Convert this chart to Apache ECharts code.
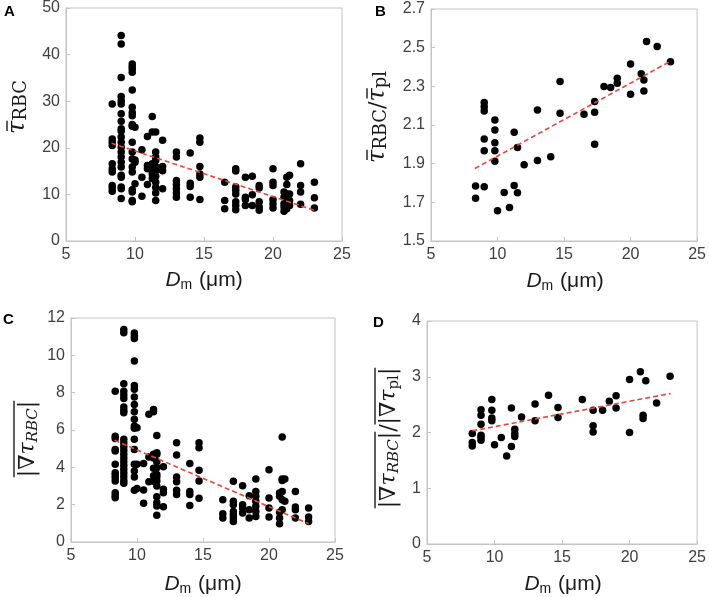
<!DOCTYPE html>
<html>
<head>
<meta charset="utf-8">
<script src="https://cdn.jsdelivr.net/npm/echarts@6/dist/echarts.min.js"></script>
<style>
html,body{margin:0;padding:0;background:#fff;}
#chart{width:709px;height:597px;}
</style>
</head>
<body>
<div id="chart"></div>
<script>
// ---------- DATA ----------
// Vessel diameter columns D_m (µm), shared by all panels
const dmColumns = [8.35, 9.0, 9.8, 10.0, 10.5, 10.9, 11.25, 11.5, 12.0, 13.0, 14.0, 14.7, 16.5, 17.3, 18.0, 18.5, 19.0, 20.0, 20.8, 21.0, 21.2, 22.0, 23.0];

// Panel A: mean tau_RBC, values per column
const tauRBC = [
  [29.4, 21.9, 21.2, 20.5, 16.6, 15.5, 14.8, 11.9, 11.4, 10.7],
  [44.1, 42.3, 35.1, 31.0, 30.1, 29.4, 27.3, 25.7, 24.1, 23.6, 22.3, 21.2, 20.1, 19.1, 18.0, 16.9, 15.9, 14.1, 13.7, 11.6, 11.2, 9.1],
  [38.0, 37.4, 36.9, 36.2, 32.4, 28.7, 27.6, 26.9, 25.0, 24.6, 21.2, 19.1, 17.6, 15.9, 14.8, 11.0, 10.5, 8.7, 8.4],
  [24.4, 17.4, 16.9, 12.3],
  [19.6, 13.7, 9.6],
  [22.4, 16.2, 15.5, 12.1],
  [26.7, 23.4, 16.6, 15.7, 14.4, 13.4],
  [23.4, 19.1, 18.0, 17.3, 16.0, 15.0, 13.9, 12.6, 11.5, 10.3, 8.7],
  [21.6, 16.0, 15.1, 11.2],
  [19.1, 18.0, 13.0, 12.1, 11.2, 10.3, 9.4],
  [18.9, 12.4, 11.7, 9.4],
  [22.1, 21.2, 16.0, 14.4, 13.7, 8.9],
  [12.6, 8.7, 6.9],
  [15.5, 15.0, 11.6, 10.9, 10.1, 8.4, 7.6, 6.7],
  [13.7, 9.4, 8.9, 7.6],
  [13.9, 9.9, 7.6],
  [11.9, 11.4, 8.4, 7.3, 6.6],
  [15.5, 12.6, 11.9, 8.9, 8.0, 7.1],
  [10.5, 9.4, 8.0, 7.3, 6.4],
  [13.7, 12.1, 10.1, 8.9, 6.9],
  [14.1, 10.1, 8.7, 7.6],
  [16.6, 11.9, 10.5, 7.9],
  [12.6, 9.3, 7.1]
];

// Panel B: tau_RBC / tau_pl
const tauRatio = [
  [1.785, 1.721],
  [2.216, 2.195, 2.173, 2.027, 1.967, 1.78],
  [2.126, 2.074, 2.008, 1.967, 1.913],
  [1.656],
  [1.751],
  [1.673],
  [2.062, 1.787],
  [1.984, 1.749],
  [1.894],
  [2.178, 1.917],
  [1.936],
  [2.325, 2.161],
  [2.155],
  [2.221, 2.166, 2.001],
  [2.299],
  [2.294],
  [2.342, 2.316],
  [2.415, 2.259],
  [2.365],
  [2.333, 2.276],
  [2.532],
  [2.506],
  [2.427]
];

// Panel C: mean |grad tau_RBC|
const gradRBC = [
  [8.08, 5.67, 5.55, 4.96, 4.88, 4.16, 3.71, 3.59, 3.44, 3.27, 2.64, 2.48, 2.37],
  [11.39, 11.21, 8.48, 8.08, 7.87, 7.69, 7.23, 7.05, 6.93, 5.5, 5.3, 5.1, 4.9, 4.7, 4.5, 4.3, 4.1, 3.9, 3.7, 3.5, 3.3, 3.15],
  [11.2, 11.03, 10.9, 9.7, 8.39, 8.18, 7.77, 7.37, 6.98, 6.57, 6.21, 6.09, 5.5, 4.96, 4.16, 3.8, 3.48, 2.77],
  [6.12, 4.16, 2.87],
  [4.21, 2.78, 2.07],
  [6.84, 4.55, 3.23],
  [7.1, 6.98, 4.7, 4.5, 3.95, 3.55, 3.25],
  [5.71, 4.78, 4.7, 4.3, 3.98, 3.62, 3.48, 3.27, 3.0, 2.43, 2.1, 1.93, 1.43],
  [4.03, 2.82, 2.64, 1.89],
  [5.32, 4.66, 3.48, 3.23, 2.77, 2.55],
  [4.2, 2.7, 2.55, 1.96],
  [5.32, 5.05, 3.84, 3.27, 2.34],
  [2.27, 1.52, 1.28],
  [3.25, 2.18, 2.0, 1.64, 1.46, 1.28, 1.1],
  [3.02, 2.0, 1.82, 1.55],
  [2.48, 1.73, 1.28],
  [3.37, 2.71, 2.45, 2.18, 1.91, 1.64, 1.37],
  [3.87, 2.36, 1.82, 1.34],
  [2.62, 2.45, 1.59, 1.28, 0.98],
  [5.62, 3.37, 3.3, 2.71, 2.27, 1.73],
  [3.37, 2.18],
  [2.71, 1.87, 1.73, 1.28],
  [1.82, 1.34, 1.1]
];

// Panel D: |grad tau_RBC| / |grad tau_pl|
const gradRatio = [
  [1.98, 1.82, 1.76],
  [2.41, 2.31, 2.15, 1.95, 1.91, 1.86],
  [2.59, 2.40, 2.26, 2.21],
  [1.78],
  [1.91],
  [1.58],
  [2.44, 1.75],
  [2.06, 1.98, 1.93],
  [2.28],
  [2.51, 2.21],
  [2.67],
  [2.45, 2.27],
  [2.59],
  [2.40, 2.12, 2.01],
  [2.40],
  [2.56],
  [2.66, 2.44],
  [2.95, 2.0],
  [3.09],
  [2.31, 2.25],
  [2.93],
  [2.53],
  [3.01]
];

// Linear trend lines (endpoints)
const trendA = [[8.3, 21.0], [23.0, 6.6]];
const trendB = [[8.3, 1.875], [23.0, 2.43]];
const trendC = [[8.3, 5.45], [23.0, 0.98]];
const trendD = [[8.35, 2.03], [23.05, 2.70]];

// Tick labels
const xTicks = [5, 10, 15, 20, 25];
const yTicksA = [0, 10, 20, 30, 40, 50];
const yTicksB = [1.5, 1.7, 1.9, 2.1, 2.3, 2.5, 2.7];
const yTicksC = [0, 2, 4, 6, 8, 10, 12];
const yTicksD = [0, 1, 2, 3, 4];

const panelLetters = ['A', 'B', 'C', 'D'];

// ---------- BUILD ----------
function points(cols) {
  const out = [];
  cols.forEach((vals, i) => vals.forEach(v => out.push([dmColumns[i], v])));
  return out;
}

const grids = [
  {left: 66, top: 7, width: 276, height: 234},
  {left: 431, top: 9, width: 269, height: 232},
  {left: 71, top: 318, width: 264, height: 224},
  {left: 427, top: 321, width: 273, height: 223}
];
grids.forEach(g => { g.show = true; g.borderColor = '#c4c4c4'; g.borderWidth = 1; g.backgroundColor = 'transparent'; });

const axisColor = '#c4c4c4';
const labelStyle = {color: '#404040', fontSize: 16, fontFamily: 'Liberation Sans, Arial, sans-serif'};

function xAxis(i) {
  return {
    gridIndex: i, type: 'value', min: 5, max: 25, interval: 5,
    axisLine: {show: true, onZero: false, lineStyle: {color: axisColor}},
    axisTick: {show: true, inside: true, length: 4, lineStyle: {color: axisColor}, customValues: xTicks},
    axisLabel: Object.assign({margin: 6, customValues: xTicks}, labelStyle),
    splitLine: {show: false}
  };
}
function yAxis(i, ticks, dec) {
  const iv = ticks[1] - ticks[0];
  return {
    gridIndex: i, type: 'value', min: ticks[0], max: ticks[ticks.length - 1], interval: iv,
    axisLine: {show: true, onZero: false, lineStyle: {color: axisColor}},
    axisTick: {show: true, inside: true, length: 4, lineStyle: {color: axisColor}, customValues: ticks},
    axisLabel: Object.assign({margin: 6, customValues: ticks, formatter: v => Number(v).toFixed(dec)}, labelStyle),
    splitLine: {show: false}
  };
}

function scatter(i, cols) {
  return {type: 'scatter', xAxisIndex: i, yAxisIndex: i, data: points(cols), symbolSize: 7.5,
    itemStyle: {color: '#000', opacity: 1}, silent: true, animation: false};
}
function trend(i, d) {
  return {type: 'line', xAxisIndex: i, yAxisIndex: i, data: d, symbol: 'none', silent: true, animation: false,
    lineStyle: {color: '#e8453c', width: 1.6, type: [5, 3]}, z: 3};
}

// text layout helper for math-like titles
const mctx = document.createElement('canvas').getContext('2d');
function fontOf(s) {
  return (s.italic ? 'italic ' : '') + (s.bold ? 'bold ' : '') + s.size + 'px ' + s.family;
}
function mathTitle(segs, cx, cy, rotate) {
  let x = 0;
  const items = [];
  const ol = {};
  segs.forEach(s => {
    mctx.font = fontOf(s);
    const w = mctx.measureText(s.t).width;
    items.push({s: s, x: x, w: w});
    if (s.ol) {
      if (!ol[s.ol]) ol[s.ol] = {x0: x + (s.olPad || 0), x1: x + w, y: s.olY};
      else { ol[s.ol].x1 = x + w; }
    }
    x += w + (s.gap || 0);
  });
  const total = x;
  const children = items.map(it => ({
    type: 'text', x: it.x - total / 2, y: it.s.dy || 0, silent: true,
    style: {
      text: it.s.t, font: fontOf(it.s), fill: '#1a1a1a',
      align: 'left', textAlign: 'left', verticalAlign: 'middle', textVerticalAlign: 'middle'
    }
  }));
  Object.keys(ol).forEach(k => {
    const o = ol[k];
    children.push({type: 'line', silent: true,
      shape: {x1: o.x0 - total / 2, y1: o.y, x2: o.x1 - total / 2, y2: o.y},
      style: {stroke: '#1a1a1a', lineWidth: 1.4}});
  });
  return {type: 'group', x: cx, y: cy, rotation: rotate ? Math.PI / 2 : 0, children: children};
}

const SERIF = '"DejaVu Serif", "Liberation Serif", serif';
const SANS = '"Liberation Sans", Arial, sans-serif';

function xTitle(cx, cy) {
  return mathTitle([
    {t: 'D', size: 21, italic: true, family: SANS},
    {t: 'm', size: 14, family: SANS, dy: 5, gap: 1},
    {t: ' (\u03bcm)', size: 21, family: SANS}
  ], cx, cy, false);
}

const titleA = mathTitle([
  {t: '\u03c4', size: 24, italic: true, family: SERIF, ol: 'a', olY: -11, olPad: 3},
  {t: 'RBC', size: 18, family: SERIF, dy: 3}
], 18, 107, true);

const titleB = mathTitle([
  {t: '\u03c4', size: 24, italic: true, family: SERIF, ol: 'a', olY: -11, olPad: 3},
  {t: 'RBC', size: 18, family: SERIF, dy: 3},
  {t: '/', size: 22, family: SERIF},
  {t: '\u03c4', size: 24, italic: true, family: SERIF, ol: 'b', olY: -11, olPad: 3},
  {t: 'pl', size: 18, family: SERIF, dy: 3}
], 378, 117, true);

const titleC = mathTitle([
  {t: '|', size: 22, family: SERIF, ol: 'a', olY: -14},
  {t: '\u2207', size: 22, family: SERIF, ol: 'a', olY: -14},
  {t: '\u03c4', size: 22, italic: true, family: SERIF, ol: 'a', olY: -14},
  {t: 'RBC', size: 15, italic: true, family: SERIF, dy: 5, ol: 'a', olY: -14},
  {t: '|', size: 22, family: SERIF, ol: 'a', olY: -14}
], 28, 439, true);

const titleD = mathTitle([
  {t: '|', size: 22, family: SERIF, ol: 'a', olY: -14},
  {t: '\u2207', size: 22, family: SERIF, ol: 'a', olY: -14},
  {t: '\u03c4', size: 22, italic: true, family: SERIF, ol: 'a', olY: -14},
  {t: 'RBC', size: 15, italic: true, family: SERIF, dy: 5, ol: 'a', olY: -14},
  {t: '|', size: 22, family: SERIF, ol: 'a', olY: -14},
  {t: '/', size: 22, family: SERIF},
  {t: '|', size: 22, family: SERIF, ol: 'b', olY: -14},
  {t: '\u2207', size: 22, family: SERIF, ol: 'b', olY: -14},
  {t: '\u03c4', size: 22, italic: true, family: SERIF, ol: 'b', olY: -14},
  {t: 'pl', size: 15, family: SERIF, dy: 5, ol: 'b', olY: -14},
  {t: '|', size: 22, family: SERIF, ol: 'b', olY: -14}
], 389, 438, true);

const letterPos = [[4, 4], [375, 4], [3, 312], [373, 315]];
const letters = panelLetters.map((l, i) => ({
  type: 'text', x: letterPos[i][0], y: letterPos[i][1], silent: true,
  style: {text: l, font: 'bold 15px ' + SANS, fill: '#000', align: 'left', verticalAlign: 'top', textAlign: 'left', textVerticalAlign: 'top'}
}));

const option = {
  backgroundColor: '#fff',
  animation: false,
  grid: grids,
  xAxis: [xAxis(0), xAxis(1), xAxis(2), xAxis(3)],
  yAxis: [yAxis(0, yTicksA, 0), yAxis(1, yTicksB, 1), yAxis(2, yTicksC, 0), yAxis(3, yTicksD, 0)],
  series: [
    scatter(0, tauRBC), trend(0, trendA),
    scatter(1, tauRatio), trend(1, trendB),
    scatter(2, gradRBC), trend(2, trendC),
    scatter(3, gradRatio), trend(3, trendD)
  ],
  graphic: [
    titleA, titleB, titleC, titleD,
    xTitle(204, 280), xTitle(565, 281), xTitle(203, 584), xTitle(563, 584)
  ].concat(letters)
};

const chart = echarts.init(document.getElementById('chart'), null, {renderer: 'canvas'});
chart.setOption(option);
</script>
</body>
</html>
